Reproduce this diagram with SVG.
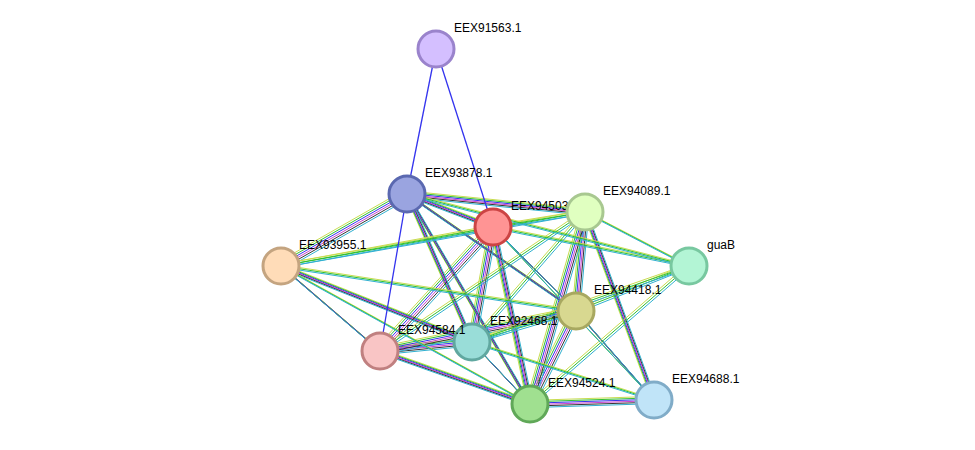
<svg xmlns="http://www.w3.org/2000/svg" xmlns:xlink="http://www.w3.org/1999/xlink" width="975" height="450" viewBox="0 0 975 450">
<style>
.n{stroke-width:3}
.t{font-family:"Liberation Sans",Arial,sans-serif;font-size:12px;fill:#000}
</style>
<rect width="975" height="450" fill="#fff"/>
<defs>
<g id="rich" fill="none" stroke-width="1">
<line x1="407" y1="194" x2="493" y2="227"/><line x1="407" y1="194" x2="585" y2="212"/>
<line x1="407" y1="194" x2="281" y2="266"/><line x1="407" y1="194" x2="576" y2="311"/>
<line x1="407" y1="194" x2="472" y2="342"/><line x1="407" y1="194" x2="530" y2="404"/>
<line x1="493" y1="227" x2="576" y2="311"/><line x1="493" y1="227" x2="472" y2="342"/>
<line x1="493" y1="227" x2="530" y2="404"/><line x1="493" y1="227" x2="380" y2="351"/>
<line x1="585" y1="212" x2="576" y2="311"/><line x1="585" y1="212" x2="530" y2="404"/>
<line x1="281" y1="266" x2="380" y2="351"/><line x1="281" y1="266" x2="472" y2="342"/>
<line x1="380" y1="351" x2="472" y2="342"/><line x1="380" y1="351" x2="576" y2="311"/>
<line x1="576" y1="311" x2="530" y2="404"/><line x1="576" y1="311" x2="654" y2="400"/>
<line x1="472" y1="342" x2="530" y2="404"/><line x1="380" y1="351" x2="530" y2="404"/>
<line x1="530" y1="404" x2="654" y2="400"/><line x1="585" y1="212" x2="654" y2="400"/>
</g>
<g id="med" fill="none" stroke-width="1">
<line x1="493" y1="227" x2="585" y2="212"/><line x1="493" y1="227" x2="281" y2="266"/>
<line x1="585" y1="212" x2="281" y2="266"/><line x1="585" y1="212" x2="689" y2="266"/>
<line x1="585" y1="212" x2="472" y2="342"/><line x1="585" y1="212" x2="380" y2="351"/>
<line x1="689" y1="266" x2="576" y2="311"/><line x1="689" y1="266" x2="530" y2="404"/>
<line x1="689" y1="266" x2="472" y2="342"/><line x1="407" y1="194" x2="689" y2="266"/>
<line x1="493" y1="227" x2="689" y2="266"/><line x1="281" y1="266" x2="576" y2="311"/>
<line x1="281" y1="266" x2="530" y2="404"/><line x1="472" y1="342" x2="654" y2="400"/>
<line x1="472" y1="342" x2="576" y2="311"/><line x1="493" y1="227" x2="654" y2="400"/>
</g>
</defs>
<g id="edges">
<use xlink:href="#rich" stroke="#c8dc50" transform="translate(-3.5,-3.5)"/>
<use xlink:href="#rich" stroke="#30c030" transform="translate(-2.1,-2.1)"/>
<use xlink:href="#rich" stroke="#3333ee" transform="translate(-0.7,-0.7)"/>
<use xlink:href="#rich" stroke="#cc44cc" transform="translate(0.7,0.7)"/>
<use xlink:href="#rich" stroke="#333" transform="translate(2.1,2.1)"/>
<use xlink:href="#rich" stroke="#30b0d0" transform="translate(3.5,3.5)"/>
<use xlink:href="#med" stroke="#c8dc50" transform="translate(-1.5,-1.5)"/>
<use xlink:href="#med" stroke="#30c030" transform="translate(0,0)"/>
<use xlink:href="#med" stroke="#30b0d0" transform="translate(1.5,1.5)"/>
<g stroke="#3333ee" stroke-width="1.3">
<line x1="436" y1="49" x2="407" y2="194"/><line x1="436" y1="49" x2="493" y2="227"/>
<line x1="407" y1="194" x2="380" y2="351"/>
</g>
</g>
<g id="n1"><circle class="n" cx="436" cy="49" r="18" fill="#d4bfff" stroke="#9a83cc"/><text class="t" x="454" y="32">EEX91563.1</text></g>
<g id="n2"><circle class="n" cx="407" cy="194" r="18" fill="#9aa4e0" stroke="#5a68b0"/><text class="t" x="425" y="177">EEX93878.1</text></g>
<g id="n3"><circle class="n" cx="493" cy="227" r="18" fill="#ff9494" stroke="#cc4444"/><text class="t" x="511" y="210">EEX94503.1</text></g>
<g id="n4"><circle class="n" cx="585" cy="212" r="18" fill="#e0ffc0" stroke="#a8c890"/><text class="t" x="603" y="195">EEX94089.1</text></g>
<g id="n6"><circle class="n" cx="281" cy="266" r="18" fill="#ffdcb8" stroke="#c4a480"/><text class="t" x="299" y="249">EEX93955.1</text></g>
<g id="n9"><circle class="n" cx="472" cy="342" r="18" fill="#99ddd8" stroke="#60a8a0"/><text class="t" x="490" y="325">EEX92468.1</text></g>
<g id="n8"><circle class="n" cx="380" cy="351" r="18" fill="#f9c5c5" stroke="#c08080"/><text class="t" x="398" y="334">EEX94584.1</text></g>
<g id="n10"><circle class="n" cx="530" cy="404" r="18" fill="#a0e090" stroke="#60a858"/><text class="t" x="548" y="387">EEX94524.1</text></g>
<g id="n11"><circle class="n" cx="654" cy="400" r="18" fill="#c0e4f8" stroke="#80acc8"/><text class="t" x="672" y="383">EEX94688.1</text></g>
<g id="n5"><circle class="n" cx="689" cy="266" r="18" fill="#b3f5d5" stroke="#78c8a0"/><text class="t" x="707" y="249">guaB</text></g>
<g id="n7"><circle class="n" cx="576" cy="311" r="18" fill="#d8d890" stroke="#a8a860"/><text class="t" x="594" y="294">EEX94418.1</text></g>
</svg>
